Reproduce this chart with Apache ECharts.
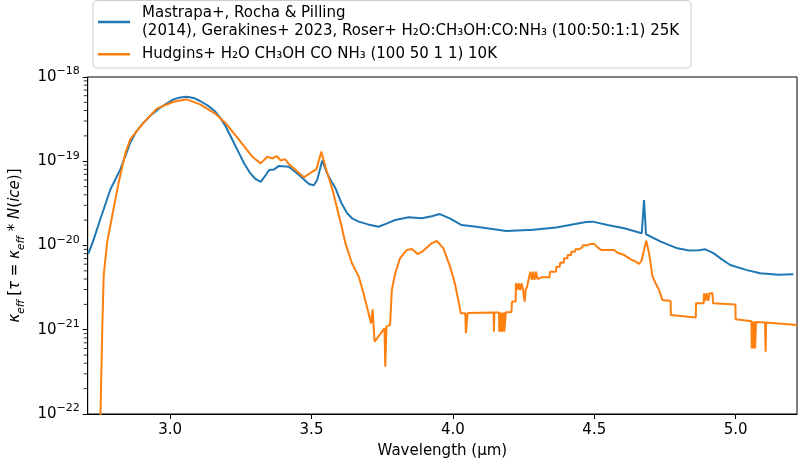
<!DOCTYPE html>
<html>
<head>
<meta charset="utf-8">
<script src="https://cdn.jsdelivr.net/npm/echarts/dist/echarts.min.js"></script>
<style>
  html, body { margin: 0; padding: 0; background: #fff; }
  #chart { width: 798px; height: 466px; }
</style>
</head>
<body>
<div id="chart"></div>
<script>
// series names (legend)
const nameMastrapa = "Mastrapa+, Rocha & Pilling\n(2014), Gerakines+ 2023, Roser+ H₂O:CH₃OH:CO:NH₃ (100:50:1:1) 25K";
const nameHudgins = "Hudgins+ H₂O CH₃OH CO NH₃ (100 50 1 1) 10K";

// axis ticks
const xTicks = [3.0, 3.5, 4.0, 4.5, 5.0];
const yTicks = [1e-22, 1e-21, 1e-20, 1e-19, 1e-18];

// Mastrapa+ (blue), [wavelength um, kappa_eff]
const mastrapa = [
  [2.711, 8.0e-21], [2.716, 8.3e-21], [2.730, 1.19e-20], [2.753, 2.05e-20],
  [2.789, 4.65e-20], [2.824, 8.0e-20], [2.859, 1.66e-19], [2.880, 2.25e-19],
  [2.906, 2.87e-19], [2.935, 3.6e-19], [2.965, 4.32e-19], [3.012, 5.43e-19],
  [3.035, 5.7e-19], [3.059, 5.83e-19], [3.083, 5.65e-19], [3.106, 5.19e-19],
  [3.132, 4.6e-19], [3.158, 3.94e-19], [3.178, 3.25e-19], [3.197, 2.57e-19],
  [3.220, 1.8e-19], [3.244, 1.24e-19], [3.262, 9.4e-20], [3.280, 7.5e-20],
  [3.300, 6.2e-20], [3.320, 5.7e-20], [3.335, 6.6e-20], [3.350, 7.87e-20],
  [3.368, 8.0e-20], [3.385, 8.8e-20], [3.420, 8.6e-20], [3.456, 6.87e-20],
  [3.491, 5.37e-20], [3.508, 5.2e-20], [3.520, 6.0e-20], [3.538, 1.02e-19],
  [3.555, 7.2e-20], [3.570, 5.8e-20], [3.585, 4.78e-20], [3.606, 3.17e-20],
  [3.626, 2.41e-20], [3.645, 2.08e-20], [3.667, 1.92e-20], [3.700, 1.78e-20],
  [3.737, 1.67e-20], [3.765, 1.82e-20], [3.796, 2.01e-20], [3.843, 2.16e-20],
  [3.890, 2.1e-20], [3.925, 2.22e-20], [3.954, 2.36e-20], [3.989, 2.1e-20],
  [4.031, 1.75e-20], [4.083, 1.67e-20], [4.189, 1.49e-20],
  [4.265, 1.53e-20], [4.270, 1.58e-20], [4.275, 1.53e-20], [4.365, 1.64e-20],
  [4.471, 1.90e-20], [4.494, 1.92e-20], [4.547, 1.75e-20], [4.606, 1.6e-20],
  [4.668, 1.40e-20], [4.676, 3.47e-20], [4.683, 1.36e-20], [4.735, 1.11e-20],
  [4.794, 9.26e-21], [4.835, 8.7e-21], [4.870, 8.8e-21], [4.893, 9.0e-21],
  [4.923, 8.07e-21], [4.950, 6.9e-21], [4.981, 5.87e-21], [5.040, 5.1e-21],
  [5.087, 4.68e-21], [5.150, 4.5e-21], [5.204, 4.55e-21]
];

// Hudgins+ (orange)
const hudgins = [
  [2.752, 5e-23], [2.756, 2.36e-22], [2.760, 1.01e-21], [2.765, 4.35e-21],
  [2.777, 1.08e-20], [2.795, 2.24e-20], [2.818, 5.57e-20], [2.842, 1.26e-19],
  [2.859, 1.82e-19], [2.906, 2.87e-19], [2.953, 4.21e-19], [3.012, 5.09e-19],
  [3.059, 5.43e-19], [3.106, 4.74e-19], [3.158, 3.71e-19], [3.197, 2.82e-19],
  [3.244, 1.79e-19], [3.291, 1.13e-19], [3.320, 9.44e-20], [3.344, 1.13e-19],
  [3.362, 1.08e-19], [3.377, 1.15e-19], [3.391, 1.02e-19], [3.406, 1.06e-19],
  [3.420, 9.27e-20], [3.444, 7.87e-20], [3.473, 6.44e-20], [3.502, 7.5e-20],
  [3.517, 8.0e-20], [3.535, 1.3e-19], [3.549, 8.6e-20], [3.575, 4.5e-20],
  [3.606, 1.7e-20], [3.620, 1.06e-20], [3.643, 6.15e-21], [3.667, 4.27e-21],
  [3.684, 2.71e-21], [3.696, 1.88e-21], [3.702, 1.88e-21], [3.711, 1.19e-21],
  [3.716, 1.75e-21], [3.723, 7.2e-22], [3.758, 1.04e-21], [3.761, 3.64e-22],
  [3.765, 1.09e-21], [3.778, 1.14e-21], [3.784, 2.96e-21], [3.796, 4.68e-21],
  [3.813, 7.05e-21], [3.837, 8.85e-21], [3.855, 9.1e-21], [3.876, 7.9e-21],
  [3.896, 8.7e-21], [3.925, 1.06e-20], [3.943, 1.13e-20], [3.966, 9.3e-21],
  [3.990, 5.6e-21], [4.007, 3.56e-21], [4.019, 2.26e-21], [4.028, 1.57e-21],
  [4.044, 1.57e-21], [4.046, 9.1e-22], [4.050, 9.1e-22], [4.052, 1.58e-21],
  [4.144, 1.6e-21], [4.145, 9.5e-22], [4.147, 1.6e-21], [4.163, 1.6e-21],
  [4.164, 9.5e-22], [4.168, 1.6e-21], [4.170, 9.5e-22], [4.174, 1.6e-21],
  [4.176, 9.5e-22], [4.180, 1.6e-21], [4.182, 9.5e-22], [4.186, 9.5e-22],
  [4.187, 1.61e-21], [4.207, 1.62e-21], [4.209, 2.16e-21], [4.222, 2.16e-21],
  [4.223, 3.56e-21], [4.228, 2.96e-21], [4.233, 3.56e-21], [4.238, 2.96e-21],
  [4.243, 3.56e-21], [4.248, 2.96e-21], [4.252, 2.96e-21], [4.254, 2.16e-21],
  [4.257, 2.96e-21], [4.262, 3.2e-21], [4.266, 3.71e-21], [4.272, 3.71e-21],
  [4.274, 4.89e-21], [4.279, 3.9e-21], [4.284, 4.89e-21], [4.289, 3.9e-21],
  [4.294, 4.89e-21], [4.299, 4.0e-21], [4.312, 4.19e-21], [4.342, 4.19e-21],
  [4.343, 4.89e-21], [4.365, 4.89e-21], [4.366, 5.6e-21], [4.378, 5.6e-21],
  [4.379, 6.25e-21], [4.392, 6.25e-21], [4.393, 7.05e-21], [4.405, 7.05e-21],
  [4.406, 7.7e-21], [4.418, 7.7e-21], [4.419, 8.45e-21], [4.432, 8.45e-21],
  [4.433, 9.0e-21], [4.445, 9.0e-21], [4.446, 9.5e-21], [4.458, 9.5e-21],
  [4.459, 1.01e-20], [4.477, 1.01e-20], [4.485, 1.04e-20], [4.500, 1.04e-20],
  [4.512, 9.5e-21], [4.524, 8.85e-21], [4.570, 8.85e-21], [4.582, 8.2e-21],
  [4.606, 7.7e-21], [4.629, 6.85e-21], [4.647, 6.43e-21], [4.658, 6.03e-21],
  [4.667, 6.6e-21], [4.684, 1.14e-20], [4.694, 8.07e-21], [4.706, 4.27e-21],
  [4.717, 3.56e-21], [4.729, 2.96e-21], [4.741, 2.26e-21], [4.770, 2.2e-21],
  [4.771, 1.5e-21], [4.859, 1.4e-21], [4.860, 2.06e-21], [4.887, 2.06e-21],
  [4.888, 2.71e-21], [4.893, 2.2e-21], [4.898, 2.71e-21], [4.903, 2.2e-21],
  [4.908, 2.71e-21], [4.918, 2.71e-21], [4.920, 2.06e-21], [4.999, 2.0e-21],
  [5.000, 1.33e-21], [5.056, 1.26e-21], [5.057, 6e-22], [5.060, 1.25e-21],
  [5.063, 6e-22], [5.066, 1.25e-21], [5.069, 6e-22], [5.072, 1.24e-21],
  [5.104, 1.22e-21], [5.106, 5.5e-22], [5.108, 1.22e-21], [5.217, 1.14e-21]
];

const xMin = 2.7085, xMax = 5.217;
const yMin = 1e-22, yMax = 1e-18;

// minor ticks of the log axis: 2..9 x 10^n
const yMinor = [];
for (let e = -22; e < -18; e++) {
  for (let k = 2; k <= 9; k++) yMinor.push(k * Math.pow(10, e));
}

const font = "DejaVu Sans";
const fs = 15;
const chart = echarts.init(document.getElementById("chart"));

chart.setOption({
  animation: false,
  textStyle: { fontFamily: font },
  grid: {
    left: 84.5, right: 1, top: 77, bottom: 52,
    show: true, borderColor: "#000", borderWidth: 1
  },
  legend: {
    data: [nameMastrapa, nameHudgins],
    orient: "vertical",
    left: 93, top: 0.5,
    padding: [4, 12, 5, 5],
    itemGap: 6,
    itemWidth: 32,
    itemHeight: 2.5,
    icon: "rect",
    backgroundColor: "rgba(255,255,255,0.8)",
    borderColor: "#cccccc",
    borderWidth: 1,
    borderRadius: 4,
    textStyle: {
      fontFamily: font, fontSize: fs, color: "#000",
      lineHeight: 17.5, padding: [0, 0, 0, 7]
    }
  },
  xAxis: {
    type: "value",
    min: xMin, max: xMax,
    name: "Wavelength (μm)",
    nameLocation: "middle",
    nameGap: 30,
    nameTextStyle: { fontFamily: font, fontSize: fs, color: "#000" },
    axisLine: { lineStyle: { color: "#000", width: 1 } },
    axisTick: { customValues: xTicks, length: 5, lineStyle: { color: "#000" } },
    axisLabel: {
      customValues: xTicks, margin: 9, fontSize: fs, color: "#000",
      formatter: v => v.toFixed(1)
    },
    splitLine: { show: false }
  },
  yAxis: {
    type: "log", logBase: 10,
    min: yMin, max: yMax,
    name: "{i|κ}{s|eff} {n|[}{i|τ}{n| = }{i|κ}{s|eff}{n| * }{i|N}{n|(}{i|ice}{n|)]}",
    nameLocation: "middle",
    nameGap: 54,
    nameRotate: 90,
    nameTextStyle: {
      fontFamily: font, color: "#000",
      rich: {
        n: { fontSize: fs, lineHeight: 22, verticalAlign: "middle", fontFamily: font },
        i: { fontSize: fs, lineHeight: 22, verticalAlign: "middle", fontStyle: "italic", fontFamily: font },
        s: { fontSize: 10.5, lineHeight: 13, verticalAlign: "bottom", fontStyle: "italic", fontFamily: font }
      }
    },
    axisLine: { lineStyle: { color: "#000", width: 1 } },
    axisTick: { customValues: yTicks, length: 5, lineStyle: { color: "#000" } },
    axisLabel: {
      customValues: yTicks, margin: 8, color: "#000",
      formatter: v => "{b|10}{e|−" + Math.round(-Math.log10(v)) + "}",
      rich: {
        b: { fontSize: fs, lineHeight: 22, verticalAlign: "middle", fontFamily: font },
        e: { fontSize: 11, lineHeight: 12, verticalAlign: "top", fontFamily: font }
      }
    },
    splitLine: { show: false }
  },
  series: [
    {
      name: nameMastrapa,
      type: "line",
      data: mastrapa,
      symbol: "none",
      clip: true,
      lineStyle: { color: "#1f77b4", width: 2 },
      itemStyle: { color: "#1f77b4" }
    },
    {
      name: nameHudgins,
      type: "line",
      data: hudgins,
      symbol: "none",
      clip: true,
      lineStyle: { color: "#ff7f0e", width: 2 },
      itemStyle: { color: "#ff7f0e" }
    },
    {
      // minor ticks of the log y axis, as tiny marks just left of the axis line
      type: "scatter",
      silent: true,
      clip: false,
      data: yMinor.map(v => [xMin, v]),
      symbol: "rect",
      symbolSize: [3.5, 1],
      symbolOffset: [-2.2, 0],
      itemStyle: { color: "#000" },
      z: 1
    }
  ]
});
</script>
</body>
</html>
